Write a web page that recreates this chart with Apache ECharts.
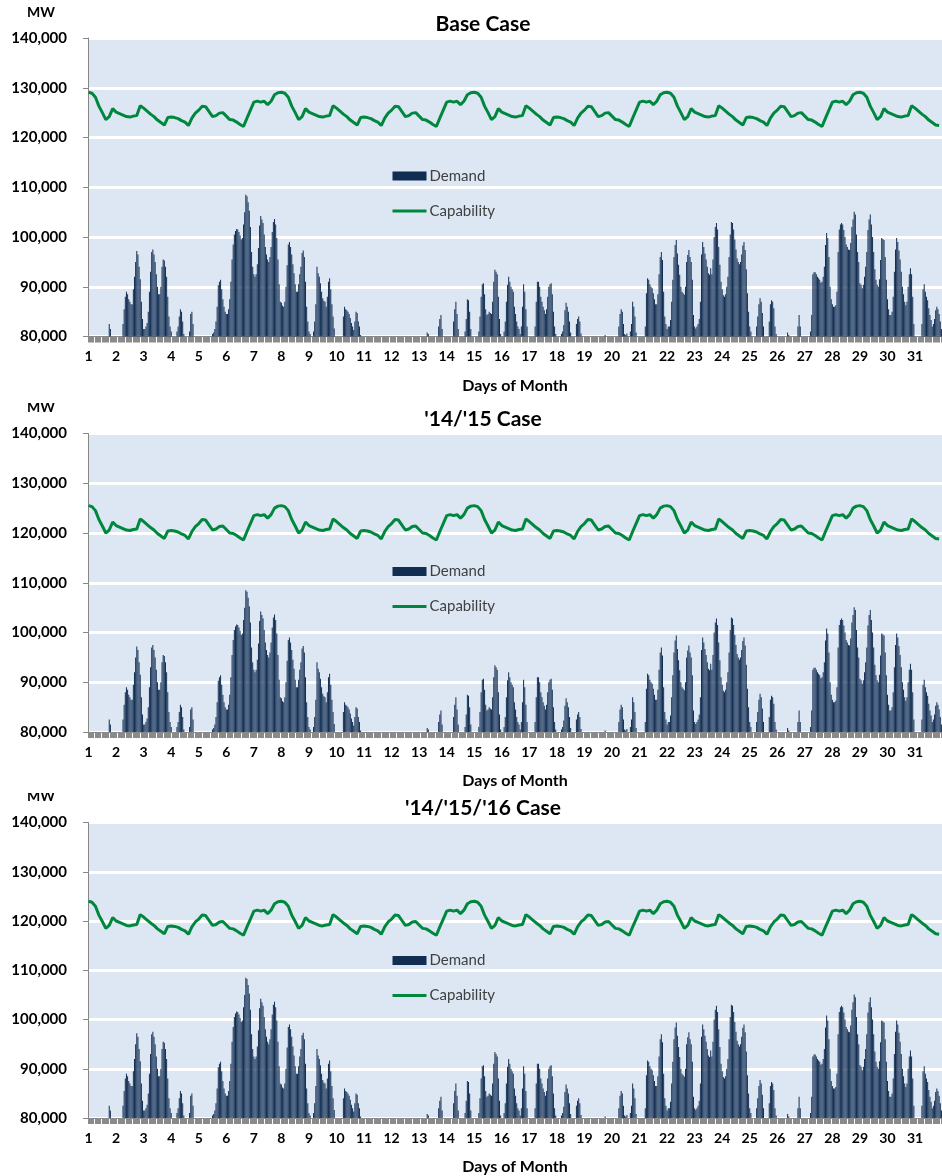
<!DOCTYPE html>
<html>
<head>
<meta charset="utf-8">
<title>Demand and Capability</title>
<script src="https://cdn.jsdelivr.net/npm/echarts@6/dist/echarts.min.js"></script>
<style>
  html, body { margin: 0; padding: 0; background: #fff; }
  #chart { width: 942px; height: 1176px; }
</style>
</head>
<body>
<div id="chart"></div>
<script>
// hourly demand, thousands of MW, one row per day (24 hours); 80 = at the axis floor
const demand = [
  [80,80,80,80,80,80,80,80,80,80,80,80,80,80,80,80,80,80,82.5,81.5,80,80,80,80],
  [80,80,80,80,80,80,82.5,85.5,88,89,88.5,87.5,87,86.5,86.5,89.5,92,95,97.2,96.5,94,91.5,87,83.5],
  [81.5,81.5,82,82.7,85,89,93,97,97.5,96.5,95,92.5,90,88.5,88.5,90,94,95.5,95.3,94,92,88,84,82],
  [81,80,80,80,80,81,82,84,85.5,85,83,80.5,80,80,80,80,81,84.5,85,82.5,80,80,80,80],
  [80,80,80,80,80,80,80,80,80,80,80,80,80.5,80.8,81.5,83,86,90.3,91,91.4,89.5,87.5,86,85],
  [84.5,84.5,85.5,87.5,91,95.5,98.5,100.5,101.2,101.6,101.5,101,100.3,99.5,99.8,102.5,105,108.5,108.2,107,105.3,102,97,94],
  [92.5,92,92.5,94.5,97.8,102.3,104.2,103.5,102.8,100.5,98,96.5,95.5,95,96,98,101,103,103.6,102.5,99.8,95.5,90.5,87],
  [86.8,86.2,86,87,90,94.3,98.5,99,98,96.5,94.5,92.7,90.5,89,89,90.5,92.5,94,96.8,97.3,96,91,86,83],
  [81,80.5,80,80,81,83,86.5,94,92.7,92,90.7,89,87.7,87.2,87,86,88,91,91.7,89.5,86.5,84,81.6,80],
  [80,80,80,80,80,80,84,86,85.5,85.3,85,84.5,83.7,82.7,82,81.3,83,85,84.7,83,82,80.3,80,80],
  [80,80,80,80,80,80,80,80,80,80,80,80,80,80,80,80,80,80,80,80,80,80,80,80],
  [80,80,80,80,80,80,80,80,80,80,80,80,80,80,80,80,80,80,80,80,80,80,80,80],
  [80,80,80,80,80,80,80,80.8,80.5,80,80,80,80,80,80,80,80,82,83.5,84.3,81.5,80,80,80],
  [80,80,80,80,80,80,83,85.5,87,84.5,81.5,80,80,80,80,80,81,83.5,87.5,87.3,85,81.5,80,80],
  [80,80,80,80,81,84,88,90.5,90.7,88.5,85.5,84.3,84.5,85,84.7,84.5,87,91,93.4,93,92.5,88,83.5,80.5],
  [80,80,81,83,87,90.4,92,91,90,89.5,89,86,84.5,83,82,81.5,80.5,82,86,90.5,89,85.5,82,80],
  [80,80,80,80,80,82,87,91,91,90,88,87,86,85.3,84.5,85.5,88,90,90.5,90.7,88.5,85,82,80.5],
  [80,80,80,80,80.5,81,82.3,85.3,86.8,86,85,83,80.8,80,80,80,80,82.5,83.5,84,83,80.6,80,80],
  [80,80,80,80,80,80,80,80,80,80,80,80,80,80,80,80,80,80,80.3,80,80,80,80,80],
  [80,80,80,80,80,80,82,84.5,85.5,85,82.5,80.5,80.3,80.6,80,80,81,82.5,87,86,84,80.8,80,80],
  [80,80,80,80,80,82,88.7,91.7,91.4,90.5,90,89.7,88.7,87.5,86.5,86.5,88.5,92.5,96,97,95.4,89,84,82.5],
  [81.5,82,82,83.3,87,91.4,96,98.4,99.4,96.7,94.4,92.4,90,89,88.7,88.4,90,95,96.4,97.4,96,95,91.4,84.3],
  [82,81.6,82,82.5,83.5,87,96.5,99,98,96.7,95.5,94,92.7,92.4,93.7,92.5,95.5,100,102,102.8,101.5,98,94.4,91],
  [89.5,88.3,88,88.5,90,92,96,100.5,103,102.8,101.5,99.5,97.5,95.7,95,94.5,95,96.5,98.3,99,97.4,93.5,88.7,85],
  [82,81,80,80,80,80,82,84,86.5,87.7,87,84.7,82,80,80,80,80,83,86.5,87.3,87,85.7,82,80.5],
  [80,80,80,80,80,80,80,80,80,80.8,80.3,80,80,80,80,80,80,80,82,84.3,82,80,80,80],
  [80,80,80,80,80,81,84.3,92.5,92.9,92.9,92.5,92,91.7,91.4,90.8,91,92,94,98.4,100.8,99.8,96,90,87.5],
  [86.5,86,86,86.3,89,97,101.5,102.5,102.8,102.5,101.4,100,98.5,98,97.5,97.4,98.8,102,103.5,105.1,104.5,100.5,97,95],
  [90.7,90.4,89.7,90.4,92,94,97,101.4,103.5,104.5,102.5,100,97,93.5,91.4,90.4,90,91.5,95.4,99.8,99.6,99.4,96,91.4],
  [87.5,85.5,84.3,84.3,85,88,93,97.5,99.8,99,97.3,95.5,93,90,88.5,87,86.3,87,90,92.5,93.7,92.5,88,82.5],
  [80,80,80,80,80,80,82.5,89.5,90.5,89,88,87.3,85.7,84.3,83.3,82,82.5,83.5,85.3,86,85.5,84.5,83,81.5]
];

// capability, thousands of MW, read every 3 hours (8 points per day)
const capBase = [
  [129.1,128.9,128.1,126.3,125.0,123.6,124.2,125.8],
  [125.1,124.8,124.5,124.2,124.1,124.3,124.4,126.4],
  [125.9,125.3,124.7,124.2,123.5,123.0,122.5,124.0],
  [124.1,124.0,123.8,123.4,123.1,122.4,123.9,124.9],
  [125.5,126.3,126.2,125.2,124.2,124.4,124.9,125.0],
  [124.3,123.6,123.5,123.1,122.6,122.2,123.9,125.5],
  [127.1,127.3,127.1,127.3,126.6,127.3,128.6,129.0],
  [129.1,128.9,128.1,126.3,125.0,123.6,124.2,125.8],
  [125.1,124.8,124.5,124.2,124.1,124.3,124.4,126.4],
  [125.9,125.3,124.7,124.2,123.5,123.0,122.5,124.0],
  [124.1,124.0,123.8,123.4,123.1,122.4,123.9,124.9],
  [125.5,126.3,126.2,125.2,124.2,124.4,124.9,125.0],
  [124.3,123.6,123.5,123.1,122.6,122.2,123.9,125.5],
  [127.1,127.3,127.1,127.3,126.6,127.3,128.6,129.0],
  [129.1,128.9,128.1,126.3,125.0,123.6,124.2,125.8],
  [125.1,124.8,124.5,124.2,124.1,124.3,124.4,126.4],
  [125.9,125.3,124.7,124.2,123.5,123.0,122.5,124.0],
  [124.1,124.0,123.8,123.4,123.1,122.4,123.9,124.9],
  [125.5,126.3,126.2,125.2,124.2,124.4,124.9,125.0],
  [124.3,123.6,123.5,123.1,122.6,122.2,123.9,125.5],
  [127.1,127.3,127.1,127.3,126.6,127.3,128.6,129.0],
  [129.1,128.9,128.1,126.3,125.0,123.6,124.2,125.8],
  [125.1,124.8,124.5,124.2,124.1,124.3,124.4,126.4],
  [125.9,125.3,124.7,124.2,123.5,123.0,122.5,124.0],
  [124.1,124.0,123.8,123.4,123.1,122.4,123.9,124.9],
  [125.5,126.3,126.2,125.2,124.2,124.4,124.9,125.0],
  [124.3,123.6,123.5,123.1,122.6,122.2,123.9,125.5],
  [127.1,127.3,127.1,127.3,126.6,127.3,128.6,129.0],
  [129.1,128.9,128.1,126.3,125.0,123.6,124.2,125.8],
  [125.1,124.8,124.5,124.2,124.1,124.3,124.4,126.4],
  [125.9,125.3,124.7,124.2,123.5,123.0,122.5,122.4]
];

const cap1415 = [
  [125.5,125.3,124.5,122.7,121.4,120.0,120.6,122.2],
  [121.5,121.2,120.9,120.6,120.5,120.7,120.8,122.8],
  [122.3,121.7,121.1,120.6,119.9,119.4,118.9,120.4],
  [120.5,120.4,120.2,119.8,119.5,118.8,120.3,121.3],
  [121.9,122.7,122.6,121.6,120.6,120.8,121.3,121.4],
  [120.7,120.0,119.9,119.5,119.0,118.6,120.3,121.9],
  [123.5,123.7,123.5,123.7,123.0,123.7,125.0,125.4],
  [125.5,125.3,124.5,122.7,121.4,120.0,120.6,122.2],
  [121.5,121.2,120.9,120.6,120.5,120.7,120.8,122.8],
  [122.3,121.7,121.1,120.6,119.9,119.4,118.9,120.4],
  [120.5,120.4,120.2,119.8,119.5,118.8,120.3,121.3],
  [121.9,122.7,122.6,121.6,120.6,120.8,121.3,121.4],
  [120.7,120.0,119.9,119.5,119.0,118.6,120.3,121.9],
  [123.5,123.7,123.5,123.7,123.0,123.7,125.0,125.4],
  [125.5,125.3,124.5,122.7,121.4,120.0,120.6,122.2],
  [121.5,121.2,120.9,120.6,120.5,120.7,120.8,122.8],
  [122.3,121.7,121.1,120.6,119.9,119.4,118.9,120.4],
  [120.5,120.4,120.2,119.8,119.5,118.8,120.3,121.3],
  [121.9,122.7,122.6,121.6,120.6,120.8,121.3,121.4],
  [120.7,120.0,119.9,119.5,119.0,118.6,120.3,121.9],
  [123.5,123.7,123.5,123.7,123.0,123.7,125.0,125.4],
  [125.5,125.3,124.5,122.7,121.4,120.0,120.6,122.2],
  [121.5,121.2,120.9,120.6,120.5,120.7,120.8,122.8],
  [122.3,121.7,121.1,120.6,119.9,119.4,118.9,120.4],
  [120.5,120.4,120.2,119.8,119.5,118.8,120.3,121.3],
  [121.9,122.7,122.6,121.6,120.6,120.8,121.3,121.4],
  [120.7,120.0,119.9,119.5,119.0,118.6,120.3,121.9],
  [123.5,123.7,123.5,123.7,123.0,123.7,125.0,125.4],
  [125.5,125.3,124.5,122.7,121.4,120.0,120.6,122.2],
  [121.5,121.2,120.9,120.6,120.5,120.7,120.8,122.8],
  [122.3,121.7,121.1,120.6,119.9,119.4,118.9,118.8]
];

const cap141516 = [
  [124.0,123.8,123.0,121.2,119.9,118.5,119.1,120.7],
  [120.0,119.7,119.4,119.1,119.0,119.2,119.3,121.3],
  [120.8,120.2,119.6,119.1,118.4,117.9,117.4,118.9],
  [119.0,118.9,118.7,118.3,118.0,117.3,118.8,119.8],
  [120.4,121.2,121.1,120.1,119.1,119.3,119.8,119.9],
  [119.2,118.5,118.4,118.0,117.5,117.1,118.8,120.4],
  [122.0,122.2,122.0,122.2,121.5,122.2,123.5,123.9],
  [124.0,123.8,123.0,121.2,119.9,118.5,119.1,120.7],
  [120.0,119.7,119.4,119.1,119.0,119.2,119.3,121.3],
  [120.8,120.2,119.6,119.1,118.4,117.9,117.4,118.9],
  [119.0,118.9,118.7,118.3,118.0,117.3,118.8,119.8],
  [120.4,121.2,121.1,120.1,119.1,119.3,119.8,119.9],
  [119.2,118.5,118.4,118.0,117.5,117.1,118.8,120.4],
  [122.0,122.2,122.0,122.2,121.5,122.2,123.5,123.9],
  [124.0,123.8,123.0,121.2,119.9,118.5,119.1,120.7],
  [120.0,119.7,119.4,119.1,119.0,119.2,119.3,121.3],
  [120.8,120.2,119.6,119.1,118.4,117.9,117.4,118.9],
  [119.0,118.9,118.7,118.3,118.0,117.3,118.8,119.8],
  [120.4,121.2,121.1,120.1,119.1,119.3,119.8,119.9],
  [119.2,118.5,118.4,118.0,117.5,117.1,118.8,120.4],
  [122.0,122.2,122.0,122.2,121.5,122.2,123.5,123.9],
  [124.0,123.8,123.0,121.2,119.9,118.5,119.1,120.7],
  [120.0,119.7,119.4,119.1,119.0,119.2,119.3,121.3],
  [120.8,120.2,119.6,119.1,118.4,117.9,117.4,118.9],
  [119.0,118.9,118.7,118.3,118.0,117.3,118.8,119.8],
  [120.4,121.2,121.1,120.1,119.1,119.3,119.8,119.9],
  [119.2,118.5,118.4,118.0,117.5,117.1,118.8,120.4],
  [122.0,122.2,122.0,122.2,121.5,122.2,123.5,123.9],
  [124.0,123.8,123.0,121.2,119.9,118.5,119.1,120.7],
  [120.0,119.7,119.4,119.1,119.0,119.2,119.3,121.3],
  [120.8,120.2,119.6,119.1,118.4,117.9,117.4,117.3]
];

const dayLabels = ['1','2','3','4','5','6','7','8','9','10','11','12','13','14','15','16',
  '17','18','19','20','21','22','23','24','25','26','27','28','29','30','31'];
const caseTitles = ['Base Case', "'14/'15 Case", "'14/'15/'16 Case"];
const caseCaps = [capBase, cap1415, cap141516];

// layout
const panelTop = [38, 433.5, 822.5];
const panelHeight = 298.5;
const FONT = 'Lato, "Open Sans", sans-serif';

// one category per hour of the month
const hours = [];
demand.forEach((day, d) => day.forEach((v, h) => hours.push(d * 24 + h)));
const demandMW = demand.flat().map(v => v * 1000);

function capLine(cap) {
  const out = new Array(hours.length).fill(null);
  cap.flat().forEach((v, k) => { out[k * 3] = v * 1000; });
  return out;
}

const chart = echarts.init(document.getElementById('chart'));

const grid = [], xAxis = [], yAxis = [], series = [], legend = [], graphic = [];

panelTop.forEach((top, k) => {
  grid.push({
    left: 88, top: top, width: 859, height: panelHeight,
    show: true, backgroundColor: '#dde7f3', borderWidth: 0
  });
  xAxis.push({
    gridIndex: k, type: 'category', data: hours, boundaryGap: true,
    name: 'Days of Month', nameLocation: 'middle', nameGap: 41,
    nameTextStyle: { fontFamily: FONT, fontWeight: 'bold', fontSize: 16, color: '#000' },
    axisLine: { show: true, lineStyle: { color: '#868686', width: 1 } },
    axisTick: { show: true, interval: 0, length: 6, lineStyle: { color: '#8a8a8a', width: 1 } },
    axisLabel: {
      interval: (i) => i % 24 === 0,
      formatter: (v) => dayLabels[Math.floor(Number(v) / 24)],
      margin: 13, fontFamily: FONT, fontWeight: 'bold', fontSize: 14, color: '#000'
    },
    splitLine: { show: false }
  });
  yAxis.push({
    gridIndex: k, type: 'value', min: 80000, max: 140000, interval: 10000,
    axisLine: { show: true, lineStyle: { color: '#868686', width: 1 } },
    axisTick: { show: true, length: 5, lineStyle: { color: '#868686' } },
    axisLabel: {
      margin: 21, fontFamily: FONT, fontWeight: 'bold', fontSize: 15, color: '#000',
      formatter: (v) => v.toLocaleString('en-US')
    },
    splitLine: { show: true, lineStyle: { color: '#ffffff', width: 3 } }
  });
  series.push({
    name: 'Demand', type: 'bar', xAxisIndex: k, yAxisIndex: k,
    data: demandMW, barWidth: 0.9, itemStyle: { color: '#112d52' },
    silent: true
  });
  series.push({
    name: 'Capability', type: 'line', xAxisIndex: k, yAxisIndex: k,
    data: capLine(caseCaps[k]), connectNulls: true, symbol: 'none', showSymbol: false,
    lineStyle: { color: '#00873e', width: 3 }, itemStyle: { color: '#00873e' },
    silent: true, z: 3
  });
  legend.push({
    left: 391, top: top + 130, orient: 'vertical', itemGap: 19, padding: 0,
    itemWidth: 34, itemHeight: 9,
    lineStyle: { width: 3 },
    data: [
      { name: 'Demand', icon: 'rect' },
      { name: 'Capability', itemStyle: { opacity: 0 } }
    ],
    textStyle: { fontFamily: FONT, fontSize: 15, color: '#404040', lineHeight: 16, padding: [0, 0, 0, -2] }
  });
  graphic.push({
    type: 'text', x: 483, y: top - 14, z: 10,
    style: { text: caseTitles[k], font: 'bold 21px ' + FONT, fill: '#000',
             textAlign: 'center', textVerticalAlign: 'middle' }
  });
  graphic.push({
    type: 'text', x: 27, y: top - 26, z: 10,
    style: { text: 'MW', font: 'bold 14px ' + FONT, fill: '#000',
             textAlign: 'left', textVerticalAlign: 'middle' }
  });
});

// the lower panels' unit labels are cut at the top in the original
graphic.push({ type: 'rect', shape: { x: 0, y: 392, width: 80, height: 11 }, style: { fill: '#fff' }, z: 20 });
graphic.push({ type: 'rect', shape: { x: 0, y: 782, width: 80, height: 11 }, style: { fill: '#fff' }, z: 20 });

chart.setOption({
  animation: false,
  grid, xAxis, yAxis, series, legend, graphic
});
</script>
</body>
</html>
